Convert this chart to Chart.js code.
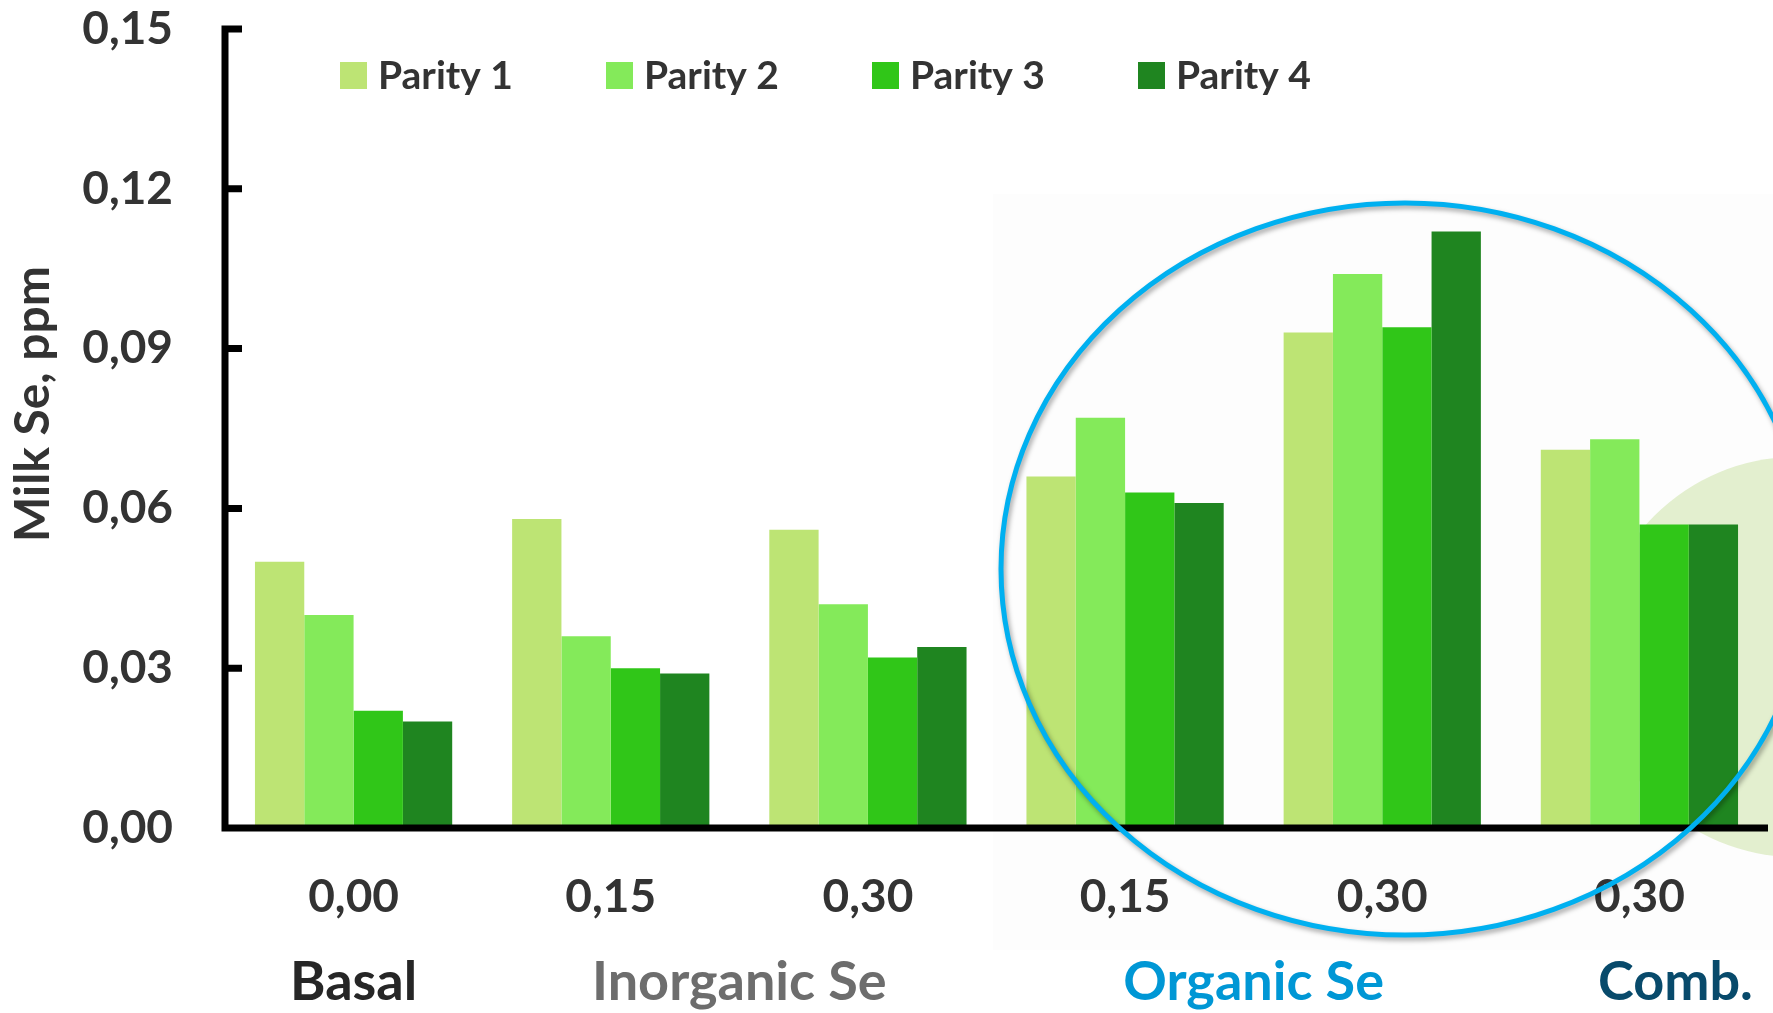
<!DOCTYPE html>
<html>
<head>
<meta charset="utf-8">
<title>Milk Se by parity</title>
<script src="https://cdn.jsdelivr.net/npm/chart.js@4.4.1/dist/chart.umd.min.js"></script>
<style>
  html, body { margin: 0; padding: 0; background: #fff; }
</style>
</head>
<body>
<canvas id="milk-se" width="1773" height="1013"></canvas>
<script>
// Se dose per treatment (ppm) and milk Se per parity
const doses = ['0,00', '0,15', '0,30', '0,15', '0,30', '0,30']
const parity1 = [0.050, 0.058, 0.056, 0.066, 0.093, 0.071]
const parity2 = [0.040, 0.036, 0.042, 0.077, 0.104, 0.073]
const parity3 = [0.022, 0.030, 0.032, 0.063, 0.094, 0.057]
const parity4 = [0.020, 0.029, 0.034, 0.061, 0.112, 0.057]
const seriesNames = ['Parity 1', 'Parity 2', 'Parity 3', 'Parity 4']
const yTicks = [0, 0.03, 0.06, 0.09, 0.12, 0.15]

// treatment groups under the dose labels (category index range)
const groupNames = ['Basal', 'Inorganic Se', 'Organic Se', 'Comb.']
const groupFrom = [0, 1, 3, 5]
const groupTo = [0, 2, 4, 5]

const colors = ['#bde474', '#84ea5a', '#30c618', '#1f8520']
const groupColors = ['#262626', '#6d6d6d', '#0097d5', '#084a6b']
const groupShift = [0, 0, 0, 36]
const ink = '#333333'
const fmt = v => v.toFixed(2).replace('.', ',')

Chart.defaults.font.family = 'Lato, "Open Sans", sans-serif'
Chart.defaults.font.weight = 'bold'

const backdrop = {
  id: 'backdrop',
  beforeDraw (chart) {
    const ctx = chart.ctx
    ctx.save()
    ctx.fillStyle = '#fff'
    ctx.fillRect(0, 0, chart.width, chart.height)
    ctx.fillStyle = '#fdfdfd'
    ctx.fillRect(993, 194, chart.width - 993, 756)
    ctx.fillStyle = '#e3efcf'
    ctx.beginPath()
    ctx.arc(1796, 657, 200, 0, Math.PI * 2)
    ctx.fill()
    ctx.restore()
  }
}

const axesAndNotes = {
  id: 'axesAndNotes',
  afterDatasetsDraw (chart) {
    const { ctx, chartArea: a, scales: { x, y } } = chart
    ctx.save()

    // axis lines with inward ticks
    ctx.strokeStyle = '#000'
    ctx.lineWidth = 7
    const top = y.getPixelForValue(yTicks[yTicks.length - 1])
    ctx.beginPath()
    ctx.moveTo(a.left, top - 3.5)
    ctx.lineTo(a.left, a.bottom + 3.5)
    ctx.moveTo(a.left - 3.5, a.bottom)
    ctx.lineTo(a.right, a.bottom)
    yTicks.forEach(v => {
      const py = y.getPixelForValue(v)
      ctx.moveTo(a.left, py)
      ctx.lineTo(a.left + 17, py)
    })
    ctx.stroke()

    // y axis title
    ctx.save()
    ctx.translate(34, 404)
    ctx.rotate(-Math.PI / 2)
    ctx.font = 'bold 48px Lato, sans-serif'
    ctx.textAlign = 'center'
    ctx.textBaseline = 'middle'
    ctx.fillStyle = ink
    ctx.fillText('Milk Se, ppm', 0, 0)
    ctx.restore()

    // legend
    ctx.font = 'bold 39px Lato, sans-serif'
    ctx.textBaseline = 'middle'
    ctx.textAlign = 'left'
    chart.data.datasets.forEach((ds, i) => {
      const bx = 340 + i * 266
      ctx.fillStyle = ds.backgroundColor
      ctx.fillRect(bx, 62, 27, 27)
      ctx.fillStyle = ink
      ctx.fillText(ds.label, bx + 38, 76)
    })

    // treatment group names
    ctx.font = 'bold 54px Lato, sans-serif'
    ctx.textAlign = 'center'
    ctx.textBaseline = 'alphabetic'
    groupNames.forEach((name, i) => {
      const cx = (x.getPixelForValue(groupFrom[i]) + x.getPixelForValue(groupTo[i])) / 2
      ctx.fillStyle = groupColors[i]
      ctx.fillText(name, cx + groupShift[i], 1000)
    })

    // highlight ring around organic Se
    ctx.shadowColor = 'rgba(0,0,0,0.35)'
    ctx.shadowBlur = 5
    ctx.shadowOffsetX = 2
    ctx.shadowOffsetY = 3
    ctx.strokeStyle = '#00b0f0'
    ctx.lineWidth = 5
    ctx.beginPath()
    ctx.ellipse(1405, 569, 404, 366, 0, 0, Math.PI * 2)
    ctx.stroke()

    ctx.restore()
  }
}

const ctx = document.getElementById('milk-se').getContext('2d')
const chart = new Chart(ctx, {
  type: 'bar',
  data: {
    labels: doses,
    datasets: [parity1, parity2, parity3, parity4].map((data, i) => ({
      label: seriesNames[i],
      data,
      backgroundColor: colors[i],
      borderWidth: 0,
      categoryPercentage: 0.767,
      barPercentage: 1
    }))
  },
  options: {
    responsive: false,
    animation: false,
    layout: { padding: { top: 29, right: 5, left: 0, bottom: 0 } },
    plugins: { legend: { display: false }, tooltip: { enabled: false } },
    scales: {
      x: {
        grid: { display: false, drawTicks: false },
        border: { display: false },
        ticks: { color: ink, font: { size: 46, weight: 'bold' }, padding: 42, maxRotation: 0 },
        afterFit (scale) {
          scale.height = 185
          scale.paddingLeft = 0
          scale.paddingRight = 0
        }
      },
      y: {
        min: 0,
        max: 0.15,
        grid: { display: false, drawTicks: false },
        border: { display: false },
        afterBuildTicks (scale) { scale.ticks = yTicks.map(value => ({ value })) },
        ticks: { color: ink, font: { size: 46, weight: 'bold' }, padding: 52, callback: v => fmt(v) },
        afterFit (scale) {
          scale.width = 225
          scale.paddingTop = 0
          scale.paddingBottom = 0
        }
      }
    }
  },
  plugins: [backdrop, axesAndNotes]
})
</script>
</body>
</html>
